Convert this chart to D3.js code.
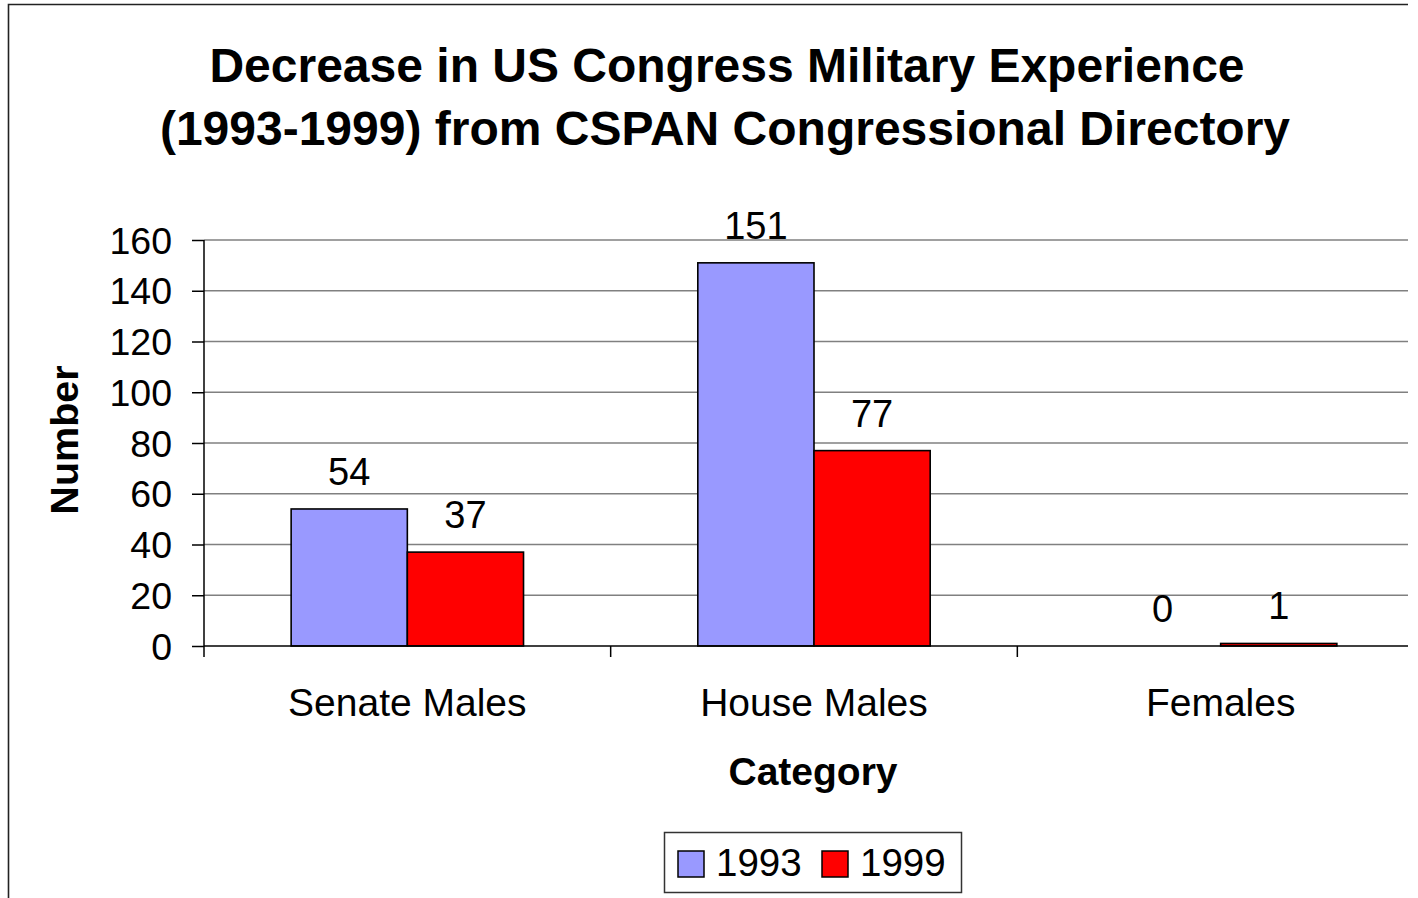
<!DOCTYPE html>
<html>
<head>
<meta charset="utf-8">
<script src="https://cdn.jsdelivr.net/npm/d3@7"></script>
<style>
  html, body { margin: 0; padding: 0; background: #fff; }
  svg { display: block; font-family: "Liberation Sans", Arial, sans-serif; }
</style>
</head>
<body>
<svg id="chart" width="1418" height="898"></svg>
<script>
// Members with military experience, by chamber/sex and year
const categories = ["Senate Males", "House Males", "Females"];
const seriesNames = ["1993", "1999"];
const values1993 = [54, 151, 0];
const values1999 = [37, 77, 1];
const yTicks = [0, 20, 40, 60, 80, 100, 120, 140, 160];
const seriesColors = ["#9999FF", "#FF0000"];

const seriesValues = [values1993, values1999];

const svg = d3.select("#chart");

// Outer chart frame
svg.append("path")
  .attr("d", "M8.5,898 L8.5,4.5 L1408,4.5")
  .attr("fill", "none")
  .attr("stroke", "#222")
  .attr("stroke-width", 1.6);

svg.append("defs").append("clipPath").attr("id", "plotClip")
  .append("rect").attr("x", 0).attr("y", 0).attr("width", 1408).attr("height", 898);

const plot = { left: 204, right: 1424, top: 240, bottom: 646 };

const x0 = d3.scaleBand().domain(categories).range([plot.left, plot.right]).paddingInner(0).paddingOuter(0);
const x1 = d3.scaleBand().domain(seriesNames).range([0, x0.bandwidth()]).paddingInner(0).paddingOuter(0.75);
const y = d3.scaleLinear().domain([0, 160]).range([plot.bottom, plot.top]);

const g = svg.append("g").attr("clip-path", "url(#plotClip)");

// Horizontal gridlines
g.selectAll("line.grid")
  .data(yTicks.filter(t => t > 0))
  .join("line")
  .attr("class", "grid")
  .attr("x1", plot.left).attr("x2", plot.right)
  .attr("y1", d => y(d)).attr("y2", d => y(d))
  .attr("stroke", "#808080").attr("stroke-width", 1.5);

// Bars
categories.forEach((cat, ci) => {
  seriesNames.forEach((s, si) => {
    const v = seriesValues[si][ci];
    if (v > 0) {
      g.append("rect")
        .attr("x", x0(cat) + x1(s))
        .attr("y", y(v))
        .attr("width", x1.bandwidth())
        .attr("height", y(0) - y(v))
        .attr("fill", seriesColors[si])
        .attr("stroke", "#000")
        .attr("stroke-width", 1.6);
    }
    g.append("text")
      .attr("x", x0(cat) + x1(s) + x1.bandwidth() / 2)
      .attr("y", y(v) - 24)
      .attr("text-anchor", "middle")
      .attr("font-size", 38)
      .attr("fill", "#000")
      .text(v);
  });
});

// Y axis
const yAxis = d3.axisLeft(y).tickValues(yTicks).tickSize(12).tickPadding(20);
const ya = svg.append("g").attr("transform", `translate(${plot.left},0)`).call(yAxis);
ya.select(".domain").attr("stroke", "#000").attr("stroke-width", 1.5).attr("d", `M0,${plot.top}V${plot.bottom}`);
ya.selectAll(".tick line").attr("stroke", "#000").attr("stroke-width", 1.5);
ya.selectAll(".tick text").attr("font-size", 37.5).attr("fill", "#000")
  .attr("font-family", "'Liberation Sans', Arial, sans-serif").attr("dy", "0.35em");

// X axis line and category separators
g.append("line")
  .attr("x1", plot.left).attr("x2", plot.right)
  .attr("y1", plot.bottom).attr("y2", plot.bottom)
  .attr("stroke", "#000").attr("stroke-width", 1.5);
g.selectAll("line.xtick")
  .data(categories)
  .join("line")
  .attr("class", "xtick")
  .attr("x1", d => x0(d)).attr("x2", d => x0(d))
  .attr("y1", plot.bottom).attr("y2", plot.bottom + 11)
  .attr("stroke", "#000").attr("stroke-width", 1.5);

svg.selectAll("text.cat")
  .data(categories)
  .join("text")
  .attr("class", "cat")
  .attr("x", d => x0(d) + x0.bandwidth() / 2)
  .attr("y", 716)
  .attr("text-anchor", "middle")
  .attr("font-size", 39)
  .text(d => d);

// Axis titles
svg.append("text")
  .attr("x", 813).attr("y", 785)
  .attr("text-anchor", "middle")
  .attr("font-size", 39).attr("font-weight", "bold")
  .text("Category");

svg.append("text")
  .attr("transform", "translate(78,440) rotate(-90)")
  .attr("text-anchor", "middle")
  .attr("font-size", 39.5).attr("font-weight", "bold")
  .text("Number");

// Title
const title = svg.append("text")
  .attr("text-anchor", "middle")
  .attr("font-size", 48).attr("font-weight", "bold");
title.append("tspan").attr("x", 727).attr("y", 82).text("Decrease in US Congress Military Experience");
title.append("tspan").attr("x", 725).attr("y", 145).text("(1993-1999) from CSPAN Congressional Directory");

// Legend
const legend = svg.append("g");
legend.append("rect")
  .attr("x", 664.5).attr("y", 832.5).attr("width", 297).attr("height", 60)
  .attr("fill", "#fff").attr("stroke", "#333").attr("stroke-width", 1.5);
const legendX = [678, 822];
seriesNames.forEach((s, i) => {
  legend.append("rect")
    .attr("x", legendX[i]).attr("y", 851).attr("width", 26).attr("height", 26)
    .attr("fill", seriesColors[i]).attr("stroke", "#000").attr("stroke-width", 1.5);
  legend.append("text")
    .attr("x", legendX[i] + 38).attr("y", 876)
    .attr("font-size", 38.5)
    .text(s);
});
</script>
</body>
</html>
